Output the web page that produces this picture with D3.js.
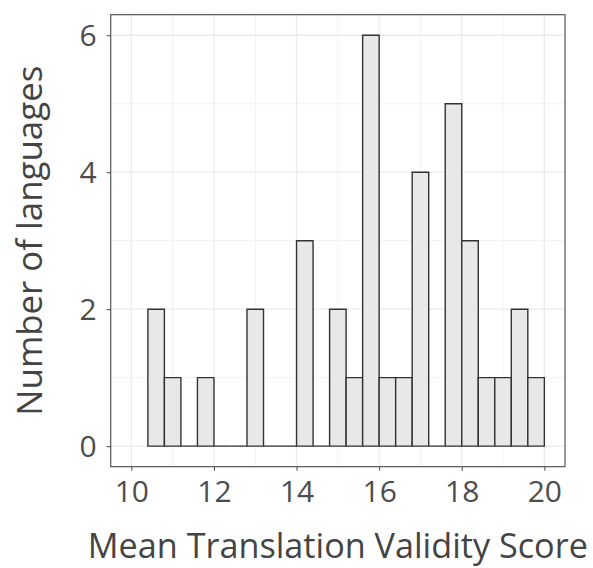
<!DOCTYPE html>
<html>
<head>
<meta charset="utf-8">
<script src="https://cdn.jsdelivr.net/npm/d3@7"></script>
<style>
  body { margin: 0; background: #fff; }
  text { font-family: "Open Sans", sans-serif; }
</style>
</head>
<body>
<div id="chart-area"></div>
<script>
// histogram bins (left edge, width 0.4) and counts
var binStarts = [10.4, 10.8, 11.2, 11.6, 12.0, 12.4, 12.8, 13.2, 13.6, 14.0, 14.4, 14.8,
                 15.2, 15.6, 16.0, 16.4, 16.8, 17.2, 17.6, 18.0, 18.4, 18.8, 19.2, 19.6]
var binCounts = [2, 1, 0, 1, 0, 0, 2, 0, 0, 3, 0, 2,
                 1, 6, 1, 1, 4, 0, 5, 3, 1, 1, 2, 1]
var binWidth = 0.4
var xTicks = [10, 12, 14, 16, 18, 20]
var xMinor = [11, 13, 15, 17, 19]
var yTicks = [0, 2, 4, 6]
var yMinor = [1, 3, 5]
var xTitle = "Mean Translation Validity Score"
var yTitle = "Number of languages"

var width = 593, height = 568
var panel = {left: 110.7, right: 565, top: 14.7, bottom: 466.7}

var svg = d3.select("#chart-area").append("svg")
    .attr("width", width)
    .attr("height", height)

var x = d3.scaleLinear().domain([9.5, 20.5]).range([panel.left, panel.right])
var y = d3.scaleLinear().domain([-0.3, 6.3]).range([panel.bottom, panel.top])

var grid = svg.append("g")

// minor grid
grid.selectAll(".xminor").data(xMinor).enter().append("line")
    .attr("x1", d => x(d)).attr("x2", d => x(d))
    .attr("y1", panel.top).attr("y2", panel.bottom)
    .attr("stroke", "#f2f2f2").attr("stroke-width", 1)
grid.selectAll(".yminor").data(yMinor).enter().append("line")
    .attr("y1", d => y(d)).attr("y2", d => y(d))
    .attr("x1", panel.left).attr("x2", panel.right)
    .attr("stroke", "#f2f2f2").attr("stroke-width", 1)
// major grid
grid.selectAll(".xmajor").data(xTicks).enter().append("line")
    .attr("x1", d => x(d)).attr("x2", d => x(d))
    .attr("y1", panel.top).attr("y2", panel.bottom)
    .attr("stroke", "#ebebeb").attr("stroke-width", 1.3)
grid.selectAll(".ymajor").data(yTicks).enter().append("line")
    .attr("y1", d => y(d)).attr("y2", d => y(d))
    .attr("x1", panel.left).attr("x2", panel.right)
    .attr("stroke", "#ebebeb").attr("stroke-width", 1.3)

// bars as closed paths so that empty bins still show a flat line
svg.append("g").selectAll("path")
    .data(binStarts)
    .enter().append("path")
    .attr("d", function(d, i) {
        var x0 = x(d), x1 = x(d + binWidth),
            y0 = y(0), y1 = y(binCounts[i])
        return "M" + x0 + "," + y0 + "L" + x0 + "," + y1 +
               "L" + x1 + "," + y1 + "L" + x1 + "," + y0 + "Z"
    })
    .attr("fill", "#e8e8e9")
    .attr("stroke", "#333333")
    .attr("stroke-width", 1.4)

// panel border
svg.append("rect")
    .attr("x", panel.left).attr("y", panel.top)
    .attr("width", panel.right - panel.left)
    .attr("height", panel.bottom - panel.top)
    .attr("fill", "none")
    .attr("stroke", "#555555")
    .attr("stroke-width", 1.2)

// axes
var xAxis = d3.axisBottom(x).tickValues(xTicks).tickSize(4).tickFormat(d3.format("d"))
var gx = svg.append("g")
    .attr("transform", "translate(0," + panel.bottom + ")")
    .call(xAxis)
gx.select(".domain").remove()
gx.selectAll(".tick line").attr("stroke", "#444")
gx.selectAll(".tick text")
    .attr("fill", "#4d4d4d")
    .style("font-size", "30px")
    .attr("dy", null)
    .attr("y", 35.5)

var yAxis = d3.axisLeft(y).tickValues(yTicks).tickSize(4).tickPadding(10).tickFormat(d3.format("d"))
var gy = svg.append("g")
    .attr("transform", "translate(" + panel.left + ",0)")
    .call(yAxis)
gy.select(".domain").remove()
gy.selectAll(".tick line").attr("stroke", "#444")
gy.selectAll(".tick text")
    .attr("fill", "#4d4d4d")
    .style("font-size", "30px")
    .attr("dy", null)
    .attr("y", 10.5)

// titles, squeezed to span the same length as the original
var xt = svg.append("text")
    .attr("x", (panel.left + panel.right) / 2)
    .attr("y", 558)
    .attr("text-anchor", "middle")
    .attr("fill", "#444444")
    .style("font-size", "34px")
    .attr("textLength", 500)
    .attr("lengthAdjust", "spacingAndGlyphs")
    .text(xTitle)

var yt = svg.append("text")
    .attr("transform", "translate(41.5," + ((panel.top + panel.bottom) / 2) + ") rotate(-90)")
    .attr("text-anchor", "middle")
    .attr("fill", "#444444")
    .style("font-size", "34px")
    .attr("textLength", 350)
    .attr("lengthAdjust", "spacingAndGlyphs")
    .text(yTitle)
</script>
</body>
</html>
